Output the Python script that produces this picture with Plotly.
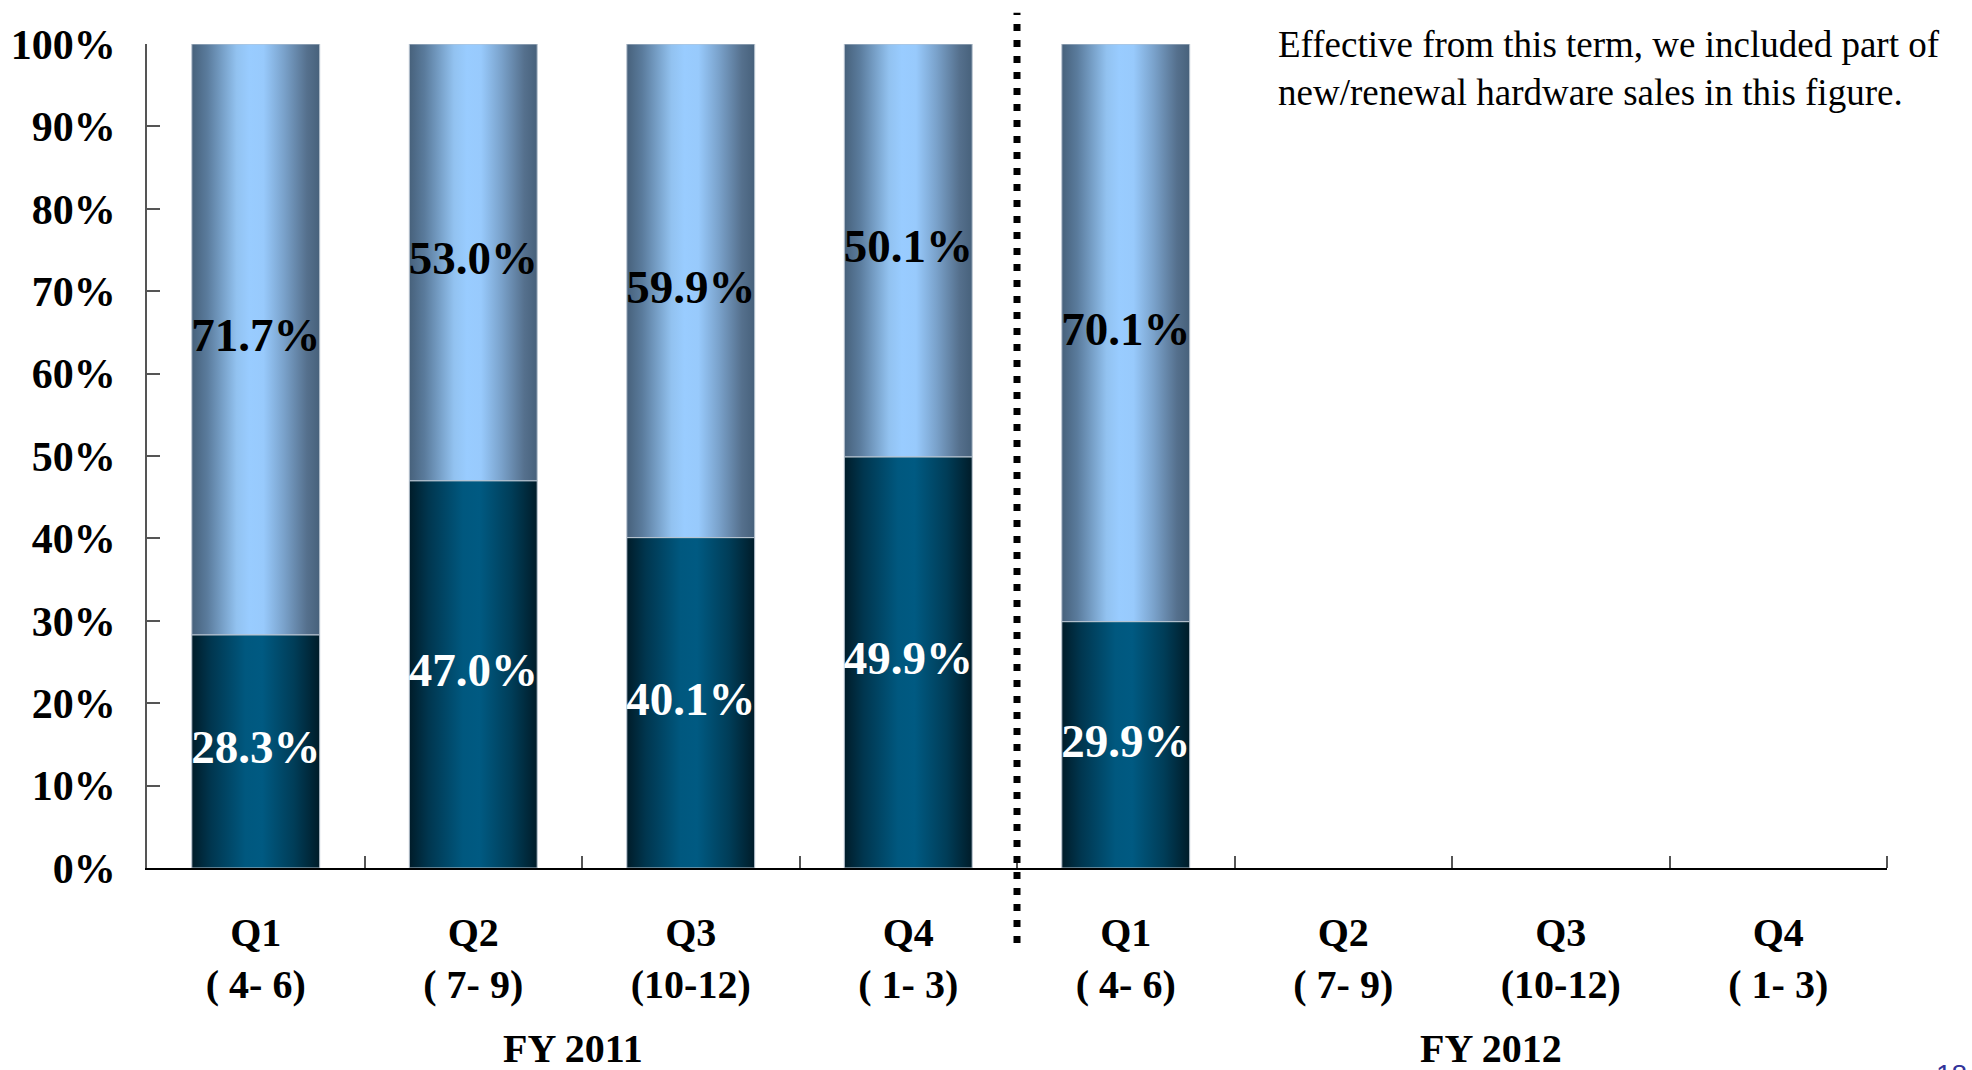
import plotly.graph_objects as go

# Quarterly composition (percent of total); FY2012 Q2-Q4 not yet reported
quarters = ["Q1<br>( 4- 6)", "Q2<br>( 7- 9)", "Q3<br>(10-12)", "Q4<br>( 1- 3)",
            "Q1<br>( 4- 6)", "Q2<br>( 7- 9)", "Q3<br>(10-12)", "Q4<br>( 1- 3)"]
lower_share = [28.3, 47.0, 40.1, 49.9, 29.9]
upper_share = [71.7, 53.0, 59.9, 50.1, 70.1]
fiscal_years = ["FY 2011", "FY 2012"]
y_ticks = [0, 10, 20, 30, 40, 50, 60, 70, 80, 90, 100]
note = "Effective from this term, we included part of<br>new/renewal hardware sales in this figure."
page_no = "18"

SERIF = "Liberation Serif"
BAR_W = 0.588

# Cylinder-like horizontal shading for each stack segment
upper_scale = [[0.0, "#47617b"], [0.12, "#5a7b9c"], [0.35, "#92c2f0"], [0.45, "#99ccff"],
               [0.56, "#98cafc"], [0.72, "#7aa2cb"], [0.9, "#55708d"], [1.0, "#47617b"]]
lower_scale = [[0.0, "#001c29"], [0.15, "#00364f"], [0.42, "#00587f"], [0.55, "#005a82"],
               [0.8, "#003d58"], [1.0, "#001c29"]]

fig = go.Figure()


def add_segment(i, base, height, scale):
    x0, x1 = i - BAR_W / 2, i + BAR_W / 2
    fig.add_trace(go.Scatter(
        x=[x0, x1, x1, x0, x0],
        y=[base, base, base + height, base + height, base],
        mode="lines", fill="toself",
        fillgradient=dict(type="horizontal", colorscale=scale, start=x0, stop=x1),
        line=dict(color="#b8c4d0", width=1),
        hoverinfo="skip", showlegend=False,
    ))


for i, (lo, hi) in enumerate(zip(lower_share, upper_share)):
    add_segment(i, 0, lo, lower_scale)
    add_segment(i, lo, hi, upper_scale)

idx = list(range(len(lower_share)))
fig.add_trace(go.Scatter(
    x=idx, y=[v / 2 for v in lower_share], mode="text",
    text=[f"{v:.1f}%" for v in lower_share],
    textfont=dict(family=SERIF, size=47, color="white", weight="bold"),
    showlegend=False, cliponaxis=False, hoverinfo="skip",
))
fig.add_trace(go.Scatter(
    x=idx, y=[lo + hi / 2 for lo, hi in zip(lower_share, upper_share)], mode="text",
    text=[f"{v:.1f}%" for v in upper_share],
    textfont=dict(family=SERIF, size=47, color="black", weight="bold"),
    showlegend=False, cliponaxis=False, hoverinfo="skip",
))

# Divider between the two fiscal years
fig.add_shape(type="line", xref="x", yref="paper", x0=3.5, x1=3.5, y0=-0.091, y1=1.038,
              line=dict(color="black", width=7, dash="7px,9px"))

fig.add_annotation(x=1.46, y=-0.219, xref="x", yref="paper", text=fiscal_years[0],
                   showarrow=False, yanchor="middle",
                   font=dict(family=SERIF, size=40, color="black", weight="bold"))
fig.add_annotation(x=5.68, y=-0.219, xref="x", yref="paper", text=fiscal_years[1],
                   showarrow=False, yanchor="middle",
                   font=dict(family=SERIF, size=40, color="black", weight="bold"))
fig.add_annotation(x=0.649, y=1.027, xref="paper", yref="paper", text=note,
                   showarrow=False, xanchor="left", yanchor="top", align="left",
                   font=dict(family=SERIF, size=37, color="black"))
fig.add_annotation(x=1.027, y=-0.229, xref="paper", yref="paper", text=page_no,
                   showarrow=False, xanchor="left", yanchor="top",
                   font=dict(family="Liberation Sans", size=28, color="#333399"))

fig.update_xaxes(
    range=[-0.5, 7.5], tickmode="array", tickvals=list(range(len(quarters))), ticktext=quarters,
    ticks="", showgrid=False, zeroline=False,
    showline=True, linecolor="black", linewidth=2,
    tickfont=dict(family=SERIF, size=40, color="black", weight="bold"),
    ticklabelstandoff=28, automargin=False,
    minor=dict(tickmode="array", tickvals=[k + 0.5 for k in range(len(quarters))],
               ticks="inside", ticklen=12, tickwidth=1.5, tickcolor="#555555", showgrid=False),
)
fig.update_yaxes(
    range=[0, 100], tickmode="array", tickvals=y_ticks, ticktext=[f"{v}%" for v in y_ticks],
    ticks="inside", ticklen=13, tickwidth=1.5, tickcolor="#555555",
    showgrid=False, zeroline=False,
    showline=True, linecolor="#555555", linewidth=1.5,
    tickfont=dict(family=SERIF, size=42, color="black", weight="bold"),
    ticklabelstandoff=21, automargin=False,
)
fig.update_layout(
    width=1972, height=1070,
    margin=dict(l=147, r=85, t=44, b=202),
    paper_bgcolor="white", plot_bgcolor="white",
    showlegend=False,
)

fig.write_html("out.html")
